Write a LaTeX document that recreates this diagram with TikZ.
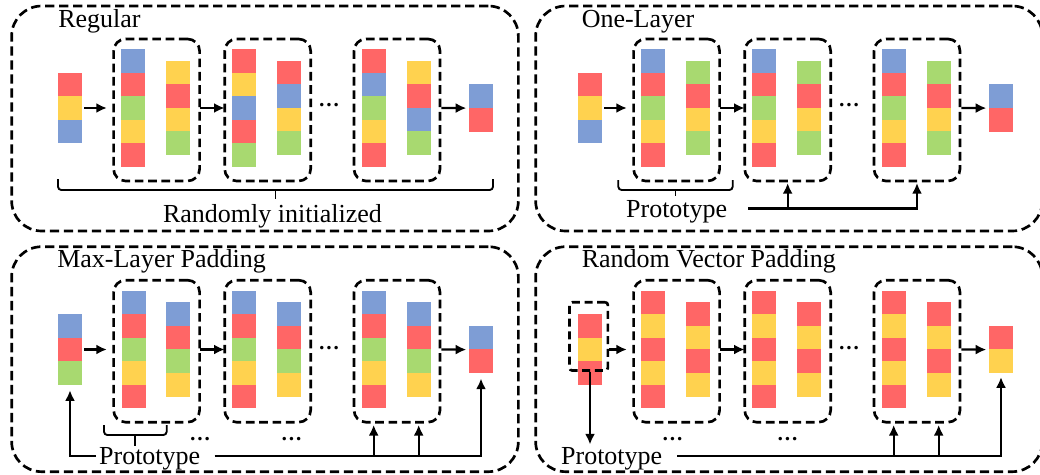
\documentclass[tikz,border=0pt]{standalone}
\usepackage{fontspec}
\setmainfont{Liberation Serif}
\usetikzlibrary{arrows.meta,positioning}

\definecolor{cR}{HTML}{FF6666}
\definecolor{cY}{HTML}{FFD24F}
\definecolor{cG}{HTML}{A8D970}
\definecolor{cB}{HTML}{7E9DD5}

\begin{document}
\begin{tikzpicture}[
  x=0.75pt, y=-0.75pt,
  font=\fontsize{19.5}{23}\selectfont,
  cell/.style={minimum width=18pt,minimum height=17.8pt,inner sep=0pt,outer sep=0pt},
  panel/.style={draw,line width=2pt,dash pattern=on 7pt off 3.5pt,rounded corners=22.5pt,minimum width=380pt,minimum height=168.75pt},
  block/.style={draw,line width=2pt,dash pattern=on 6.5pt off 3.5pt,rounded corners=9pt,outer sep=0pt,minimum width=64.5pt,minimum height=106.5pt},
  title/.style={anchor=base west,inner sep=0pt},
  lbl/.style={inner sep=2pt,text depth=0pt},
  dots/.style={anchor=base,inner sep=0pt,font=\fontsize{16}{18}\selectfont\bfseries},
  arr/.style={-{Latex[length=8pt,width=7.5pt]},line width=1.6pt},
  brk/.style={line width=1.4pt,rounded corners=2.5pt}
]
\useasboundingbox (0,0) rectangle (1040,475);

% panels and titles
\node[panel] (p1) at (265,118.5) {};
\node[panel] (p2) at (789,118.5) {};
\node[panel] (p3) at (265,359.2) {};
\node[panel] (p4) at (789,359.2) {};
\node[title] (t1) at (58,27) {Regular};
\node[title] (t2) at (581.5,27) {One-Layer};
\node[title] (t3) at (57,267.5) {Max-Layer Padding};
\node[title] (t4) at (581.5,267.5) {Random Vector Padding};

% vectors: name/x/top/colours
\foreach \nm/\xx/\yy/\cols in {%
  rin/70/72.75/{cR,cY,cB},%
  r1l/133/49.25/{cB,cR,cG,cY,cR},%
  r1s/178/61/{cY,cR,cY,cG},%
  r2l/244.3/49.25/{cR,cY,cB,cR,cG},%
  r2s/289.3/61/{cR,cB,cY,cG},%
  r3l/373.7/49.25/{cR,cB,cG,cY,cR},%
  r3s/418.7/61/{cY,cR,cB,cG},%
  rout/481/84.5/{cB,cR},%
  oin/590/72.75/{cR,cY,cB},%
  o1l/653/49.25/{cB,cR,cG,cY,cR},%
  o1s/698/61/{cG,cR,cY,cG},%
  o2l/764.3/49.25/{cB,cR,cG,cY,cR},%
  o2s/809.3/61/{cG,cR,cY,cG},%
  o3l/893.7/49.25/{cB,cR,cG,cY,cR},%
  o3s/938.7/61/{cG,cR,cY,cG},%
  oout/1001/84.5/{cB,cR},%
  min/70/314.25/{cB,cR,cG},%
  m1l/134/290.75/{cB,cR,cG,cY,cR},%
  m1s/178/302.5/{cB,cR,cG,cY},%
  m2l/244.3/290.75/{cB,cR,cG,cY,cR},%
  m2s/289.3/302.5/{cB,cR,cG,cY},%
  m3l/373.7/290.75/{cB,cR,cG,cY,cR},%
  m3s/418.7/302.5/{cB,cR,cG,cY},%
  mout/481/326/{cB,cR},%
  vin/590/314.25/{cR,cY,cR},%
  v1l/653/290.75/{cR,cY,cR,cY,cR},%
  v1s/698/302.5/{cR,cY,cR,cY},%
  v2l/764.3/290.75/{cR,cY,cR,cY,cR},%
  v2s/809.3/302.5/{cR,cY,cR,cY},%
  v3l/893.7/290.75/{cR,cY,cR,cY,cR},%
  v3s/938.7/302.5/{cR,cY,cR,cY},%
  vout/1001/326/{cR,cY}}
  \foreach \cc [count=\i] in \cols
    \node[cell,fill=\cc] (\nm-\i) at (\xx,\yy+\i*23.5-11.75) {};

% Regular
\node[block] (r1) at (156.6,110) {};
\node[block,right=18.8pt of r1] (r2) {};
\node[block,right=32.5pt of r2] (r3) {};
\node[dots] (d1) at (329,106.5) {…};
\draw[arr,shorten <=1.5pt,shorten >=5pt] (rin-2.east) -- (rin-2 -| r1.west);
\draw[arr] (r1.east |- rin-2) -- (r2.west |- rin-2);
\draw[arr,shorten <=1pt,shorten >=2pt] (r3.east |- rin-2) -- (rout-1.south west);
\draw[brk] (58,179) |- (493,190) -- (493,179);
\draw[brk] (275.5,190) -- (275.5,199);
\node[lbl] (rnd) at (272.5,213) {Randomly initialized};

% One-Layer
\node[block] (o1) at (676.6,110) {};
\node[block,right=18.8pt of o1] (o2) {};
\node[block,right=32.5pt of o2] (o3) {};
\node[dots] (d2) at (849,106.5) {…};
\draw[arr,shorten <=1.5pt,shorten >=5pt] (oin-2.east) -- (oin-2 -| o1.west);
\draw[arr] (o1.east |- oin-2) -- (o2.west |- oin-2);
\draw[arr,shorten <=1pt,shorten >=2pt] (o3.east |- oin-2) -- (oout-1.south west);
\draw[brk] (618.3,180) |- (732.7,190) -- (732.7,180);
\draw[brk] (675.5,190) -- (675.5,196);
\node[lbl] (op) at (676.7,208.5) {Prototype};
\draw[arr,shorten <=13.7pt,shorten >=1.5pt] (op.east) -| (o3.south);
\draw[arr,shorten >=1.5pt] (op.east -| o2.south) -- (o2.south);

% Max-Layer Padding
\node[block] (m1) at (156.6,351.2) {};
\node[block,right=18.8pt of m1] (m2) {};
\node[block,right=32.5pt of m2] (m3) {};
\node[dots] (d3) at (329,349) {…};
\node[dots] (d4) at (200,440.5) {…};
\node[dots] (d5) at (291.5,440.5) {…};
\draw[arr,shorten <=1.5pt,shorten >=5pt] (min-2.east) -- (min-2 -| m1.west);
\draw[arr] (m1.east |- min-2) -- (m2.west |- min-2);
\draw[arr,shorten <=1pt,shorten >=2pt] (m3.east |- min-2) -- (mout-1.south west);
\draw[brk] (104,425) |- (166.7,435) -- (166.7,425);
\draw[brk] (135.3,435) -- (135.3,446);
\node[lbl] (mp) at (149.7,456) {Prototype};
\draw[arr,shorten >=4pt] (mp.west) -| (min-3.south);
\draw[arr,shorten <=8.5pt,shorten >=4pt] (mp.east) -| (mout-2.south);
\draw[arr,shorten >=2pt] (mp -| m3l-5) -- (m3l-5 |- m3.south);
\draw[arr,shorten >=2pt] (mp -| m3s-4) -- (m3s-4 |- m3.south);

% Random Vector Padding
\node[block] (v1) at (676.6,351.2) {};
\node[block,right=18.8pt of v1] (v2) {};
\node[block,right=32.5pt of v2] (v3) {};
\node[draw,line width=2pt,dash pattern=on 6pt off 3.5pt,rounded corners=2pt,minimum width=28.7pt,minimum height=51.2pt] (sel) at (588.7,336.4) {};
\node[dots] (d6) at (849,349) {…};
\node[dots] (d7) at (672.5,440.5) {…};
\node[dots] (d8) at (787.5,440.5) {…};
\draw[arr,shorten >=5pt] (sel.east |- vin-2) -- (vin-2 -| v1.west);
\draw[arr] (v1.east |- vin-2) -- (v2.west |- vin-2);
\draw[arr,shorten <=1pt,shorten >=2pt] (v3.east |- vin-2) -- (vout-1.south west);
\node[lbl] (vp) at (611.7,456) {Prototype};
\draw[arr] (sel.south -| vin-3) -- (vin-3 |- vp.north);
\draw[arr,shorten <=9pt,shorten >=3pt] (vp.east) -| (vout-2.south);
\draw[arr,shorten >=2pt] (vp -| v3l-5) -- (v3l-5 |- v3.south);
\draw[arr,shorten >=2pt] (vp -| v3s-4) -- (v3s-4 |- v3.south);
\end{tikzpicture}
\end{document}
